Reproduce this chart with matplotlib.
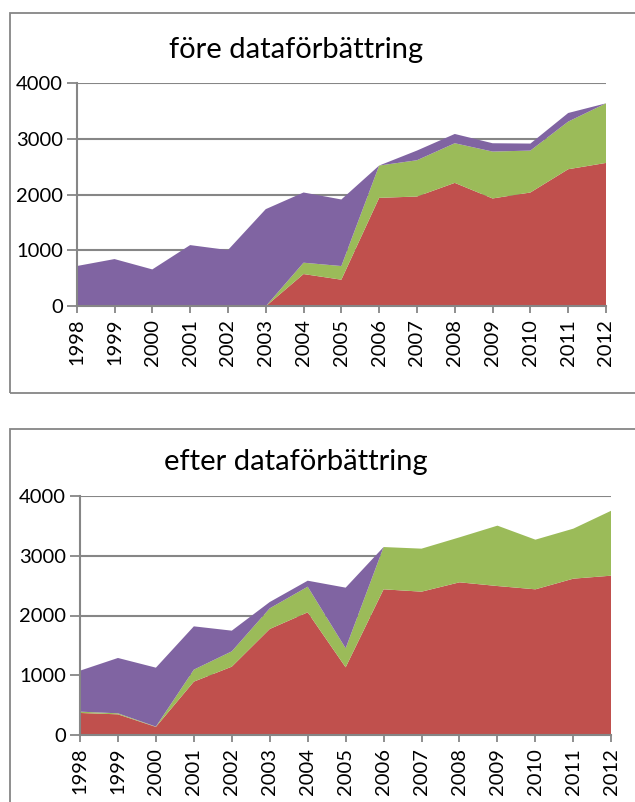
import numpy as np
import matplotlib.pyplot as plt
from matplotlib.patches import Rectangle

# data
years = ['1998', '1999', '2000', '2001', '2002', '2003', '2004', '2005',
         '2006', '2007', '2008', '2009', '2010', '2011', '2012']

# före dataförbättring
red_fore = [0, 0, 0, 0, 0, 0, 577, 476, 1940, 1964, 2208, 1929, 2036, 2452, 2565]
green_fore = [0, 0, 0, 0, 0, 0, 203, 244, 578, 649, 709, 839, 750, 852, 1066]
purple_fore = [720, 845, 660, 1095, 1006, 1738, 1256, 1191, 0, 173, 166, 149, 125, 154, 0]

# efter dataförbättring
red_efter = [373, 350, 140, 896, 1146, 1775, 2053, 1135, 2437, 2398, 2554, 2492, 2437, 2615, 2665]
green_efter = [22, 17, 5, 200, 256, 345, 428, 317, 706, 718, 751, 1008, 829, 835, 1085]
purple_efter = [684, 924, 984, 723, 345, 105, 100, 1013, 0, 0, 0, 0, 0, 0, 0]

titles = ['före dataförbättring', 'efter dataförbättring']

colors = ['#C0504D', '#9BBB59', '#8064A2']
grey = '#868686'

plt.rcParams['font.family'] = ['Lato', 'DejaVu Sans']

fig = plt.figure(figsize=(6.35, 8.02), dpi=100)

# rammar runt diagrammen
fig.patches.append(Rectangle((10 / 635, 1 - 392.7 / 802), 1.0, (392.7 - 13.3) / 802,
                             transform=fig.transFigure, fill=False,
                             edgecolor=grey, linewidth=1.3))
fig.patches.append(Rectangle((10 / 635, -0.05), 1.0, 0.05 + (802 - 429.3) / 802,
                             transform=fig.transFigure, fill=False,
                             edgecolor=grey, linewidth=1.3))

ax1 = fig.add_axes([76.7 / 635, 1 - 306.3 / 802, (606 - 76.7) / 635, (306.3 - 82.7) / 802])
ax2 = fig.add_axes([80 / 635, 1 - 735.3 / 802, (611.3 - 80) / 635, (735.3 - 495.7) / 802])

x = np.arange(len(years))
series = [(red_fore, green_fore, purple_fore), (red_efter, green_efter, purple_efter)]
title_y = [50, 462]

for ax, s, t, ty in zip([ax1, ax2], series, titles, title_y):
    ax.stackplot(x, *s, colors=colors, linewidth=0, zorder=2)
    ax.set_xlim(0, len(years) - 1)
    ax.set_ylim(0, 4000)
    ax.set_yticks([0, 1000, 2000, 3000, 4000])
    ax.set_xticks(x)
    ax.set_xticklabels(years, rotation=90)
    ax.yaxis.grid(True, color=grey, linewidth=1.5, zorder=0)
    ax.set_axisbelow(True)
    for side in ['top', 'right']:
        ax.spines[side].set_visible(False)
    for side in ['left', 'bottom']:
        ax.spines[side].set_color(grey)
        ax.spines[side].set_linewidth(1.5)
        ax.spines[side].set_zorder(3)
    ax.tick_params(axis='x', direction='out', length=5, width=1.3, color=grey,
                   labelsize=14.5, pad=4)
    ax.tick_params(axis='y', direction='out', length=7, width=1.3, color=grey,
                   labelsize=14.5, pad=3)
    fig.text(296 / 635, 1 - ty / 802, t, ha='center', va='center', fontsize=21)

fig.savefig('out.png', dpi=100)
